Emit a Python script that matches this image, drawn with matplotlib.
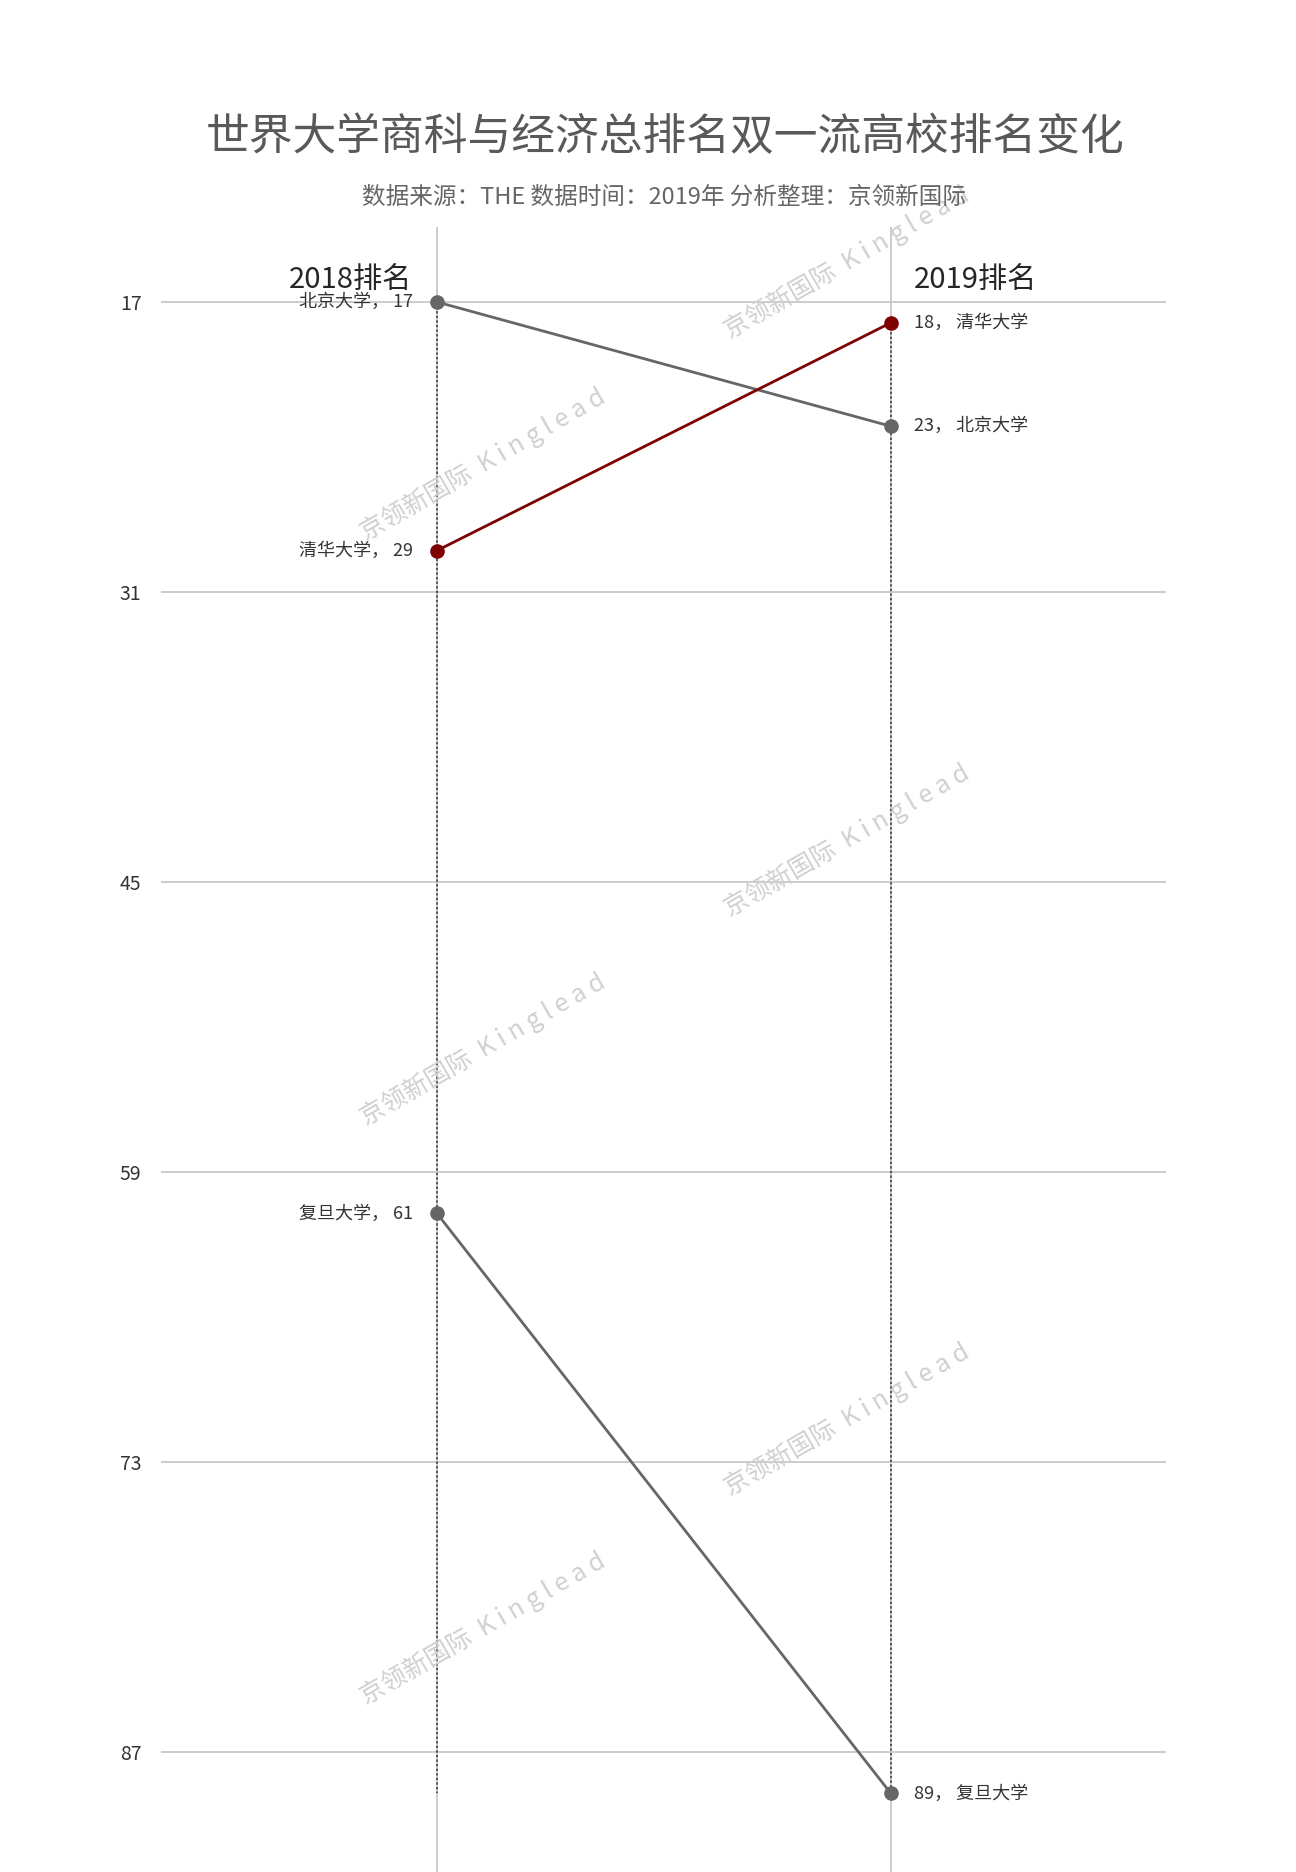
import matplotlib
matplotlib.use("Agg")
import matplotlib.pyplot as plt

plt.rcParams['font.family'] = ['Noto Sans CJK SC', 'DejaVu Sans']

# data
schools = ['北京大学', '清华大学', '复旦大学']
rank_2018 = [17, 29, 61]
rank_2019 = [23, 18, 89]
line_colors = ['#666666', '#7f0000', '#666666']
years = ['2018排名', '2019排名']
yticks = [17, 31, 45, 59, 73, 87]

title = '世界大学商科与经济总排名双一流高校排名变化'
subtitle = '数据来源：THE 数据时间：2019年 分析整理：京领新国际'
watermark = '京领新国际  K i n g l e a d'

fig = plt.figure(figsize=(12.96, 18.72), dpi=100)
ax = fig.add_axes([161 / 1296, 0, (1166 - 161) / 1296, (1872 - 227) / 1872])
ax.set_xlim(-0.608, 1.606)
ax.set_ylim(92.79, 13.38)

for s in ax.spines.values():
    s.set_visible(False)
ax.set_xticks([])
ax.set_yticks(yticks)
ax.tick_params(axis='y', length=0, pad=14, labelsize=14, labelcolor='#333333')
ax.yaxis.grid(True, color='#c8c8c8', linewidth=1.3)
ax.set_axisbelow(True)

# solid gray column lines
for x in [0, 1]:
    ax.axvline(x, color='#c8c8c8', linewidth=1.3, zorder=1)

# dotted range lines
top_all = max(rank_2018 + rank_2019)
ax.vlines(0, min(rank_2018), top_all, colors='#333333', linestyles=(0, (1.5, 1.5)), linewidth=1.1, zorder=2)
ax.vlines(1, min(rank_2019), top_all, colors='#333333', linestyles=(0, (1.5, 1.5)), linewidth=1.1, zorder=2)

for name, a, b, c in zip(schools, rank_2018, rank_2019, line_colors):
    ax.plot([0, 1], [a, b], color=c, linewidth=2, marker='o', markersize=9.5, zorder=4)
    ax.annotate(f'{name}， {a}', (0, a), xytext=(-17, 0), textcoords='offset points',
                ha='right', va='center', fontsize=13, color='#333333')
    ax.annotate(f'{b}， {name}', (1, b), xytext=(16.5, 0), textcoords='offset points',
                ha='left', va='center', fontsize=13, color='#333333')

ax.annotate(years[0], (0, 17), xytext=(-18, 5), textcoords='offset points',
            ha='right', va='bottom', fontsize=21, color='#262626')
ax.annotate(years[1], (1, 17), xytext=(16.5, 5), textcoords='offset points',
            ha='left', va='bottom', fontsize=21, color='#262626')

fig.text(665 / 1296, 1 - 137 / 1872, title, ha='center', va='center', fontsize=31.5, color='#595959')
fig.text(664 / 1296, 1 - 197 / 1872, subtitle, ha='center', va='center', fontsize=17, color='#666666')

# watermarks
for wx, wy in [(483, 465), (847, 263), (847, 841), (483, 1050), (847, 1420), (483, 1629)]:
    ax.text(wx / 1296, 1 - wy / 1872, watermark, transform=fig.transFigure,
            rotation=30, rotation_mode='anchor', ha='center', va='center',
            fontsize=18, color='#d0d0d0', zorder=3, clip_on=False)

fig.savefig('out.png', dpi=100, facecolor='white')
